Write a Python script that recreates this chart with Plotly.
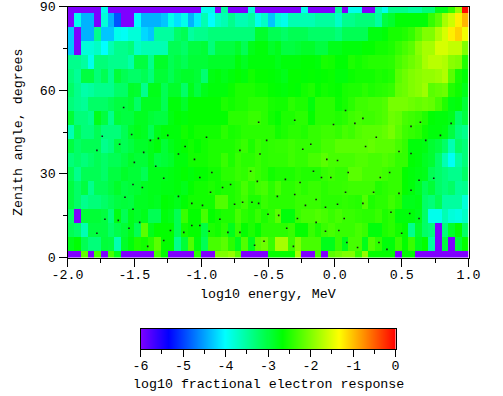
import plotly.graph_objects as go

row_90 = [-6,-6,-6,-6,-6,-3.9,-6,-6,-6,-6,-6,-6,-6,-6,-6,-6,-6,-6,-6,-6,-3.9,-3.9,-6,-3.5,-6,-6,-6,-3.8,-6,-6,
          -6,-6,-6,-6,-6,-3.9,-6,-6,-6,-6,-3.5,-6,-3.9,-3.9,-6,-6,-3.6,-3.9,-3.4,-3.4,-3.4,-3.5,-3.5,-3.3,-3.3,-2.8,-2.8,-2.4,-1.9,-0.05]
row_85 = [-6,-3.9,-4.4,-4.4,-6,-3.8,-4.4,-4.9,-6,-6,-4.0,-4.4,-4.4,-4.4,-4.3,-3.9,-4.15,-3.9,-4.4,-4.1,-3.6,-4.0,-3.7,-3.6,-3.4,-3.6,-3.6,-3.5,-3.9,-3.7,
          -4.3,-3.8,-3.9,-3.6,-3.6,-3.6,-3.6,-3.5,-3.5,-3.5,-3.7,-3.4,-3.4,-3.3,-3.3,-3.3,-3.5,-3.0,-2.9,-2.7,-2.7,-2.7,-2.7,-2.7,-2.4,-2.2,-1.8,-1.6,-1.25,-0.95]
row_80 = [-4.3,-6,-4.4,-4.4,-3.4,-4.3,-4.3,-3.9,-3.95,-3.8,-3.8,-4.2,-4.3,-3.5,-3.5,-3.5,-3.2,-3.1,-3.5,-3.4,-3.4,-3.3,-3.3,-3.3,-3.3,-3.3,-3.3,-3.3,-2.9,-2.9,
          -3.1,-3.1,-3.2,-3.1,-3.1,-3.1,-3.2,-3.2,-3.2,-3.2,-3.3,-3.1,-3.1,-3.1,-3.1,-2.75,-2.75,-2.7,-2.55,-2.55,-2.5,-2.4,-2.2,-2.0,-2.0,-1.75,-1.55,-1.25,-1.1,-1.4]
row_75 = [-4.3,-6,-3.8,-3.8,-3.7,-4.0,-3.6,-3.4,-3.4,-3.3,-3.7,-3.6,-3.6,-3.6,-3.6,-3.1,-3.1,-3.2,-3.0,-3.0,-2.95,-3.3,-3.0,-3.0,-3.0,-2.88,-3.1,-2.8,-2.72,-2.72,
          -2.88,-2.8,-3.0,-3.0,-2.95,-2.88,-2.88,-3.0,-3.0,-2.8,-2.8,-2.72,-2.72,-2.72,-2.65,-2.65,-2.58,-2.58,-2.52,-2.4,-2.3,-2.2,-1.95,-1.8,-1.8,-1.55,-1.55,-1.65,-1.65,-2.0]
row_70 = [-3.4,-3.4,-3.5,-3.9,-3.3,-3.3,-3.4,-3.4,-3.4,-3.55,-3.0,-3.0,-3.4,-2.88,-2.88,-3.1,-3.0,-3.1,-2.95,-2.95,-2.95,-2.88,-2.88,-2.88,-2.88,-2.72,-2.84,-2.72,-2.72,-2.72,
          -2.72,-2.8,-2.72,-2.72,-2.72,-2.68,-2.68,-2.72,-2.55,-2.58,-2.68,-2.68,-2.52,-2.58,-2.52,-2.48,-2.48,-2.48,-2.45,-2.3,-2.2,-2.1,-2.0,-1.8,-1.7,-1.7,-1.75,-1.95,-2.0,-2.5]
row_65 = [-3.3,-3.45,-3.0,-3.0,-3.3,-3.1,-3.4,-2.95,-3.1,-3.2,-3.2,-3.1,-3.3,-2.95,-2.95,-3.1,-2.95,-2.88,-2.88,-2.95,-3.25,-2.76,-2.72,-2.8,-2.72,-2.65,-2.72,-2.58,-2.65,-2.65,
          -2.68,-2.72,-2.8,-2.65,-2.65,-2.68,-2.65,-2.68,-2.65,-2.62,-2.72,-2.72,-2.62,-2.58,-2.58,-2.58,-2.52,-2.55,-2.5,-2.2,-2.1,-2.0,-1.95,-1.9,-1.9,-1.85,-1.75,-2.2,-2.55,-2.7]
row_60 = [-3.2,-3.4,-3.55,-3.5,-3.4,-3.4,-3.4,-3.2,-3.2,-2.88,-2.92,-3.4,-2.8,-2.8,-3.1,-2.88,-2.88,-3.2,-2.8,-3.0,-2.8,-2.72,-2.72,-2.72,-2.62,-2.52,-2.52,-2.52,-2.58,-2.58,
          -2.65,-2.68,-2.72,-2.65,-2.68,-2.58,-2.52,-2.65,-2.58,-2.62,-2.65,-2.55,-2.52,-2.52,-2.45,-2.52,-2.48,-2.45,-2.4,-2.15,-2.1,-2.0,-1.95,-1.85,-2.2,-2.15,-2.1,-2.5,-2.6,-2.8]
row_55 = [-3.3,-3.4,-3.45,-3.2,-3.2,-3.2,-3.1,-3.0,-3.0,-2.92,-3.2,-2.84,-2.84,-2.84,-3.1,-2.72,-2.72,-2.88,-2.65,-2.65,-2.65,-2.65,-2.65,-2.52,-2.58,-2.52,-2.52,-2.45,-2.45,-2.45,
          -2.55,-2.58,-2.58,-2.45,-2.52,-2.52,-2.72,-2.45,-2.45,-2.45,-2.62,-2.55,-2.45,-2.35,-2.35,-2.3,-2.3,-2.25,-2.05,-2.05,-2.05,-2.1,-2.15,-2.1,-2.15,-2.3,-2.5,-2.75,-2.72,-2.95]
row_50 = [-2.95,-3.3,-3.3,-3.4,-2.8,-3.0,-3.4,-2.95,-3.0,-3.0,-2.84,-2.84,-2.95,-3.0,-3.0,-2.76,-2.68,-2.72,-2.65,-2.65,-2.65,-2.65,-2.65,-2.65,-2.45,-2.45,-2.45,-2.38,-2.38,-2.45,
          -2.58,-2.65,-2.52,-2.52,-2.45,-2.45,-2.65,-2.45,-2.45,-2.45,-2.5,-2.45,-2.35,-2.3,-2.35,-2.35,-2.3,-2.25,-2.1,-2.15,-2.3,-2.35,-2.4,-2.5,-2.68,-2.72,-2.72,-2.8,-3.2,-3.0]
row_45 = [-3.6,-3.1,-3.3,-3.3,-3.1,-3.3,-3.3,-3.3,-3.1,-2.88,-2.8,-2.84,-3.1,-2.8,-2.72,-2.72,-2.72,-2.58,-2.65,-2.58,-2.58,-2.58,-2.58,-2.45,-2.55,-2.52,-2.45,-2.45,-2.45,-2.45,
          -2.45,-2.58,-2.52,-2.45,-2.45,-2.5,-2.4,-2.4,-2.35,-2.35,-2.4,-2.3,-2.35,-2.25,-2.2,-2.2,-2.2,-2.15,-2.05,-2.2,-2.35,-2.4,-2.45,-2.6,-2.72,-2.72,-2.76,-3.0,-3.3,-3.4]
row_40 = [-3.0,-3.2,-3.1,-3.1,-3.1,-3.4,-3.3,-3.0,-3.1,-3.0,-2.88,-2.88,-2.8,-2.72,-2.95,-2.8,-2.72,-2.65,-2.58,-2.65,-2.58,-2.52,-2.52,-2.52,-2.52,-2.45,-2.38,-2.52,-2.38,-2.45,
          -2.42,-2.4,-2.4,-2.35,-2.4,-2.4,-2.4,-2.4,-2.3,-2.3,-2.2,-2.2,-2.2,-2.2,-2.2,-2.15,-2.2,-2.2,-2.2,-2.3,-2.4,-2.72,-2.72,-2.76,-2.92,-3.0,-3.2,-3.6,-3.2,-3.3]
row_35 = [-3.3,-3.2,-3.3,-3.2,-3.1,-3.2,-3.1,-3.1,-3.0,-2.88,-2.95,-2.95,-2.8,-3.0,-2.95,-2.88,-2.72,-2.72,-2.58,-2.58,-2.58,-2.52,-2.52,-2.38,-2.52,-2.38,-2.45,-2.45,-2.38,-2.45,
          -2.42,-2.42,-2.42,-2.35,-2.4,-2.4,-2.3,-2.3,-2.2,-2.3,-2.3,-2.3,-2.3,-2.25,-2.25,-2.3,-2.3,-2.25,-2.3,-2.4,-2.4,-2.68,-2.72,-2.84,-2.92,-3.2,-3.6,-3.95,-3.5,-3.3]
row_30 = [-3.1,-3.4,-3.1,-3.1,-3.1,-3.2,-3.0,-3.0,-2.88,-2.95,-2.95,-3.1,-2.8,-2.8,-2.8,-2.76,-2.72,-2.65,-2.72,-2.65,-2.65,-2.58,-2.58,-2.45,-2.45,-2.38,-2.42,-2.3,-2.38,-2.45,
          -2.58,-2.52,-2.52,-2.52,-2.45,-2.5,-2.5,-2.5,-2.4,-2.35,-2.4,-2.4,-2.2,-2.2,-2.3,-2.3,-2.3,-2.35,-2.4,-2.4,-2.65,-2.72,-2.76,-2.8,-3.1,-3.2,-3.3,-3.4,-3.4,-3.2]
row_25 = [-3.0,-3.2,-3.0,-3.4,-3.1,-3.1,-3.0,-2.88,-3.0,-2.95,-2.92,-2.84,-2.8,-2.8,-2.76,-2.76,-2.72,-2.8,-2.65,-2.58,-2.58,-2.52,-2.58,-2.52,-2.52,-2.45,-2.3,-2.45,-2.34,-2.3,
          -2.45,-2.3,-2.45,-2.45,-2.38,-2.45,-2.38,-2.38,-2.45,-2.4,-2.4,-2.38,-2.35,-2.35,-2.35,-2.35,-2.5,-2.45,-2.4,-2.4,-2.65,-2.72,-2.84,-3.1,-2.95,-3.2,-3.3,-3.2,-3.45,-3.4]
row_20 = [-3.0,-3.2,-3.4,-3.3,-3.3,-3.2,-3.1,-3.0,-2.97,-3.0,-2.84,-2.84,-2.8,-2.84,-2.68,-2.72,-2.8,-2.68,-2.58,-2.58,-2.58,-2.58,-2.25,-2.25,-2.52,-2.45,-2.34,-2.52,-2.52,-2.38,
          -2.45,-2.45,-2.45,-2.45,-2.38,-2.38,-2.38,-2.38,-2.45,-2.45,-2.45,-2.42,-2.45,-2.48,-2.25,-2.52,-2.45,-2.45,-2.34,-2.45,-2.8,-2.8,-2.76,-3.2,-3.3,-3.1,-3.5,-3.5,-3.5,-3.8]
row_15 = [-3.2,-6,-2.95,-2.95,-2.95,-3.0,-3.3,-2.76,-3.1,-2.8,-2.88,-2.8,-3.1,-3.1,-2.72,-2.8,-3.1,-2.38,-2.65,-2.65,-2.3,-2.65,-2.58,-2.52,-2.52,-2.3,-2.45,-2.52,-2.38,-2.52,
          -2.42,-2.2,-2.72,-2.72,-2.38,-2.3,-2.3,-2.25,-2.3,-2.38,-2.3,-2.38,-2.38,-2.42,-2.45,-2.45,-2.38,-2.52,-2.45,-2.72,-2.72,-2.72,-2.8,-3.2,-3.9,-3.9,-3.6,-3.8,-3.85,-3.7]
row_10 = [-3.1,-3.2,-3.6,-3.0,-3.0,-3.0,-3.2,-3.05,-2.95,-2.8,-3.1,-2.2,-2.8,-2.65,-2.65,-2.65,-3.1,-2.58,-2.65,-2.65,-3.0,-2.52,-2.58,-2.45,-2.8,-2.38,-2.65,-2.52,-2.65,-2.45,
          -2.45,-2.45,-2.45,-2.38,-2.65,-2.65,-2.38,-2.52,-2.38,-2.3,-2.38,-2.38,-2.38,-2.3,-2.38,-2.72,-2.72,-2.52,-2.45,-2.58,-2.65,-3.4,-2.88,-3.2,-3.3,-6,-3.3,-2.88,-2.65,-3.2]
row_05 = [-2.8,-2.68,-3.1,-3.3,-3.3,-2.97,-3.0,-3.6,-2.88,-2.72,-2.52,-2.58,-2.45,-2.2,-2.65,-2.65,-3.4,-2.95,-2.25,-2.72,-3.1,-2.3,-2.3,-2.2,-2.45,-2.8,-2.25,-2.8,-2.2,-2.1,
          -2.38,-1.8,-1.8,-2.34,-2.0,-2.3,-2.3,-2.3,-2.8,-2.8,-2.38,-2.8,-2.3,-2.3,-2.8,-2.25,-2.42,-2.72,-2.72,-2.38,-2.65,-2.38,-2.8,-2.65,-3.5,-6,-3.0,-6,-2.95,-2.65]
row_00 = [-6,-6,-2.15,-6,-2.3,-6,-2.3,-2.8,-6,-6,-6,-6,-6,-2.3,-2.65,-6,-6,-6,-6,-2.45,-6,-6,-2.0,-2.0,-1.9,-2.2,-6,-6,-6,-6,
          -2.65,-2.65,-2.65,-2.65,-1.8,-6,-6,-2.3,-6,-2.2,-2.1,-2.0,-2.0,-2.4,-1.9,-2.65,-2.65,-2.65,-2.65,-6,-2.65,-2.65,-6,-6,-6,-6,-6,-6,-6,-6]

speck_energy = [-1.74,-1.52,-1.25,-1.32,-1.38,-1.61,-1.12,-0.96,-0.51,-1.78,-1.43,-1.17,-0.71,-0.56,-1.05,-1.50,-1.34,-0.92,-0.63,-1.28,
                -1.01,-1.51,-1.44,-0.78,-0.84,-0.58,-0.93,-1.57,-1.17,-1.07,-0.99,-0.75,-0.69,-0.62,-0.57,-1.51,-1.72,-1.62,-1.46,-0.86,
                -0.50,-1.07,-1.01,-1.54,-1.23,-0.94,-1.13,-0.80,-0.71,-1.78,-1.28,-1.40,-0.60,-0.53,-0.18,-0.24,0.31,0.23,0.79,0.68,
                0.57,0.48,-0.06,0.02,-0.16,0.10,0.41,-0.37,-0.10,-0.03,0.34,0.74,0.63,-0.26,0.08,0.29,0.48,0.57,-0.30,-0.43,
                -0.14,0.21,0.02,-0.22,-0.07,0.42,0.56,-0.42,0.07,-0.28,0.63,-0.14,-0.36,-0.07,0.03,0.50,0.09,0.33,0.17,-0.31,
                0.39,0.08,0.21,-0.30,-0.01,0.15,0.57,0.64,0.87,-1.58,-0.57]
speck_angle = [43.5,44.1,43.8,42.7,42.0,40.6,39.8,43.1,42.0,38.4,37.7,37.1,38.4,37.1,35.2,34.1,32.7,30.5,30.9,28.4,
               28.7,26.2,25.1,26.2,25.1,27.3,23.4,21.6,21.9,19.4,18.7,19.1,19.8,19.8,19.4,17.3,13.7,13.3,12.6,13.7,
               15.5,11.5,11.5,10.5,9.7,9.4,9.0,9.0,9.0,8.7,6.1,4.0,4.4,5.8,40.6,38.8,43.1,39.8,43.8,42.0,
               37.3,38.0,35.2,34.8,30.9,30.5,30.5,28.0,28.7,28.7,28.7,28.4,27.7,26.9,23.4,23.4,23.0,24.1,22.6,21.9,
               20.8,19.4,19.1,18.7,18.0,16.2,15.8,15.1,14.0,14.0,14.0,12.6,10.5,9.4,9.7,8.7,5.4,5.4,3.6,4.0,
               2.9,52.7,49.9,49.2,47.7,48.1,47.0,48.5,48.1,53.8,48.5]

energy_centres = [-1.975 + 0.05 * i for i in range(60)]
angle_centres = [5 * j for j in range(19)]
response = [row_00, row_05, row_10, row_15, row_20, row_25, row_30, row_35, row_40, row_45,
            row_50, row_55, row_60, row_65, row_70, row_75, row_80, row_85, row_90]
for a, r in zip(angle_centres, response):
    assert len(r) == 60, (a, len(r))
assert len(speck_energy) == len(speck_angle), (len(speck_energy), len(speck_angle))

x_ticks = [-2.0, -1.5, -1.0, -0.5, 0.0, 0.5, 1.0]
x_labels = ["-2.0", "-1.5", "-1.0", "-0.5", "0.0", "0.5", "1.0"]
x_minor = [-1.75, -1.25, -0.75, -0.25, 0.25, 0.75]
y_ticks = [0, 30, 60, 90]
y_minor = [15, 45, 75]
bar_ticks = [-6, -5, -4, -3, -2, -1, 0]
bar_labels = ["-6", "-5", "-4", "-3", "-2", "-1", "0"]
bar_minor = [-5.5, -4.5, -3.5, -2.5, -1.5, -0.5]
bar_levels = [-6 + i * 6 / 254 for i in range(255)]

scale = [[0, "#7f00ff"], [1 / 9, "#0000ff"], [3 / 9, "#00ffff"], [5 / 9, "#00ff00"], [7 / 9, "#ffff00"], [1, "#ff0000"]]
W, H = 503, 396
FONT = dict(family="Liberation Mono", size=13.3, color="black")

fig = go.Figure()
fig.add_trace(go.Heatmap(x=energy_centres, y=angle_centres, z=response, zmin=-6, zmax=0,
                         colorscale=scale, showscale=False, zsmooth=False))
fig.add_trace(go.Scatter(x=speck_energy, y=speck_angle, mode="markers",
                         marker=dict(symbol="square", size=1.6, color="#1a1a1a", line=dict(width=0))))
fig.add_trace(go.Heatmap(x=bar_levels, y=[0], z=[bar_levels], zmin=-6, zmax=0, colorscale=scale,
                         showscale=False, zsmooth=False, xaxis="x2", yaxis="y2"))

common = dict(showgrid=False, zeroline=False, showline=True, linecolor="black", linewidth=1, automargin=False,
              mirror=True, ticks="outside", tickcolor="black", tickwidth=1, tickfont=FONT)
minor_style = dict(tickmode="array", ticks="outside", ticklen=4, tickcolor="black", tickwidth=1)


def label(text, x, y, angle=0):
    return dict(text=text, x=x / W, y=1 - y / H, xref="paper", yref="paper", xanchor="center", yanchor="middle",
                showarrow=False, textangle=angle, font=FONT)


fig.update_layout(
    width=W, height=H, margin=dict(l=0, r=0, t=0, b=0), paper_bgcolor="white", plot_bgcolor="white",
    font=FONT, showlegend=False,
    xaxis=dict(domain=[67.5 / W, 468.5 / W], range=[-2, 1], tickmode="array", tickvals=x_ticks, ticktext=x_labels,
               ticklen=8, ticklabelstandoff=-3, minor=dict(tickvals=x_minor, **minor_style), anchor="y", **common),
    yaxis=dict(domain=[1 - 257.5 / H, 1 - 6.5 / H], range=[0, 90], tickmode="array", tickvals=y_ticks,
               ticktext=[str(v) for v in y_ticks], ticklen=8, minor=dict(tickvals=y_minor, **minor_style), anchor="x", **common),
    xaxis2=dict(domain=[140.5 / W, 395.5 / W], range=[-6, 0], tickmode="array", tickvals=bar_ticks, ticktext=bar_labels,
                ticklen=7, ticklabelstandoff=-3, minor=dict(tickvals=bar_minor, **minor_style), anchor="y2", **common),
    yaxis2=dict(domain=[1 - 349 / H, 1 - 329 / H], range=[-0.5, 0.5], showticklabels=False, ticks="", showgrid=False, automargin=False,
                zeroline=False, showline=True, linecolor="black", linewidth=1, mirror=True, anchor="x2"),
    annotations=[label("log10 energy, MeV", 268, 294), label("Zenith angle, degrees", 19, 132, -90),
                 label("log10 fractional electron response", 268, 384)],
)
fig.write_html("out.html", config=dict(displayModeBar=False),
               post_script="document.body.style.margin='0';document.body.style.overflow='hidden';")
